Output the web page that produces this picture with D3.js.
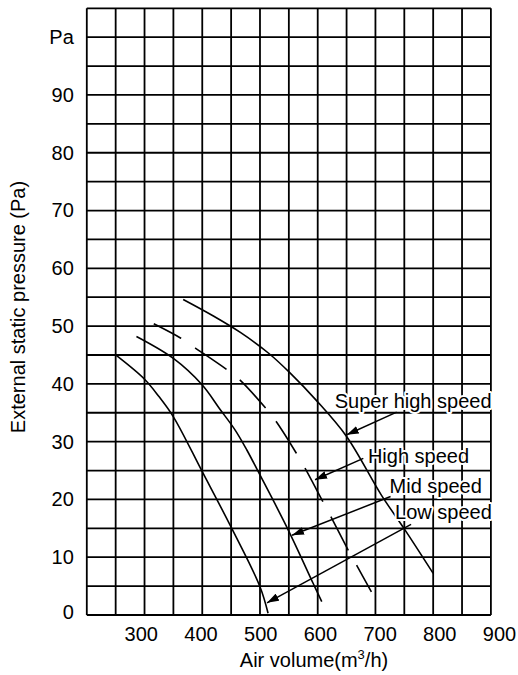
<!DOCTYPE html>
<html>
<head>
<meta charset="utf-8">
<script src="https://cdn.jsdelivr.net/npm/d3@7"></script>
<style>
  body { margin: 0; background: #fff; }
  text { font-family: "Liberation Sans", Arial, sans-serif; fill: #000; }
  .grid line { stroke: #000; stroke-width: 1.8; }
  .curve { fill: none; stroke: #000; stroke-width: 1.6; }
  .axis text { font-size: 20px; }
  .note { font-size: 20px; paint-order: stroke; stroke: #fff; stroke-width: 4px; stroke-linejoin: round; }
  .arrow { stroke: #000; stroke-width: 1.5; }
</style>
</head>
<body>
<div id="chart"></div>
<script>

var width = 518;
var height = 675;
var margin = {top: 8.3, right: 27, bottom: 60, left: 86.8};

// tick labels
var xTicks = [300, 400, 500, 600, 700, 800, 900];
var yTicks = [0, 10, 20, 30, 40, 50, 60, 70, 80, 90, 100];
var yTickLabels = ["0", "10", "20", "30", "40", "50", "60", "70", "80", "90", "Pa"];

// fan curves: air volume (m3/h) and static pressure (Pa)
var lowX = [250, 300, 325, 350, 400, 450, 500, 514];
var lowY = [45, 40.8, 37.8, 34.3, 24.8, 15.2, 4.9, 0.3];

var midX = [286, 350, 400, 430, 457, 477, 497, 549, 592, 607];
var midY = [48.2, 44.4, 39.8, 35.7, 32, 28.6, 24.8, 14.7, 5.5, 2.3];

var highX = [316, 363, 388, 442, 464, 509, 528, 563, 578, 608, 623, 653, 667, 693];
var highY = [50.4, 47.9, 46.2, 42.5, 40.8, 35.9, 33.5, 28, 25.4, 19.8, 17, 11.2, 8.7, 4];

var superX = [367, 420, 466, 515, 552, 598, 650, 710, 750, 800];
var superY = [54.6, 51.7, 48.9, 45.3, 41.9, 37.1, 30.9, 20.8, 14.9, 7.2];

// callouts
var noteText = ["Super high speed", "High speed", "Mid speed", "Low speed"];
var noteX = [629.5, 687, 724.5, 734];
var noteY = [35.8, 26.3, 21.2, 16.7];
var arrowFromX = [736.8, 679, 726.2, 761.7];
var arrowFromY = [35.1, 27.1, 20.5, 15.7];
var arrowToX = [650.3, 595.4, 555.5, 512.2];
var arrowToY = [31.2, 23.4, 13.8, 2.1];

createchart();

function createchart() {

  var svg = d3.select("#chart")
    .append("svg")
    .attr("width", width)
    .attr("height", height);

  var g = svg.append("g")
    .attr("transform", "translate(" + margin.left + "," + margin.top + ")");

  var xScale = d3.scaleLinear().domain([200, 900]).range([0, 404.1]);
  var yScale = d3.scaleLinear().domain([0, 105]).range([606.7, 0]);
  // labels under the x axis sit slightly wider apart than the grid
  var xLabelScale = d3.scaleLinear().domain([300, 900]).range([54, 412.2]);

  var grid = g.append("g").attr("class", "grid");
  grid.selectAll(".vx")
    .data(d3.range(200, 901, 50))
    .enter()
    .append("line")
    .attr("x1", function(d) { return xScale(d); })
    .attr("x2", function(d) { return xScale(d); })
    .attr("y1", yScale(0))
    .attr("y2", yScale(105));
  grid.selectAll(".hy")
    .data(d3.range(0, 106, 5))
    .enter()
    .append("line")
    .attr("x1", xScale(200))
    .attr("x2", xScale(900))
    .attr("y1", function(d) { return yScale(d); })
    .attr("y2", function(d) { return yScale(d); });

  var xAxis = g.append("g")
    .attr("class", "axis")
    .attr("transform", "translate(0," + yScale(0) + ")")
    .call(d3.axisBottom(xLabelScale).tickValues(xTicks).tickSize(0).tickPadding(11.5));
  xAxis.select(".domain").remove();
  xAxis.selectAll("text").style("font-size", "20px").attr("font-family", null);

  var yAxis = g.append("g")
    .attr("class", "axis")
    .call(d3.axisLeft(yScale).tickValues(yTicks).tickSize(0).tickPadding(13)
      .tickFormat(function(d, i) { return yTickLabels[i]; }));
  yAxis.select(".domain").remove();
  yAxis.selectAll("text").style("font-size", "20px").attr("font-family", null);
  // the zero label sits a little above the bottom line
  yAxis.selectAll("text").filter(function(d) { return d === 0; }).attr("dy", "0.15em");

  var line = d3.line()
    .x(function(d) { return xScale(d[0]); })
    .y(function(d) { return yScale(d[1]); })
    .curve(d3.curveCatmullRom.alpha(0.5));

  function pairs(xs, ys) { return xs.map(function(x, i) { return [x, ys[i]]; }); }

  g.append("path").attr("class", "curve").attr("d", line(pairs(lowX, lowY)));
  g.append("path").attr("class", "curve").attr("d", line(pairs(midX, midY)));
  g.append("path").attr("class", "curve").attr("d", line(pairs(superX, superY)));
  g.append("path").attr("class", "curve")
    .attr("stroke-dasharray", "38,17")
    .attr("stroke-dashoffset", 7)
    .attr("d", line(pairs(highX, highY)));

  svg.append("defs").append("marker")
    .attr("id", "head")
    .attr("markerUnits", "userSpaceOnUse")
    .attr("viewBox", "0 0 12 8")
    .attr("refX", 12)
    .attr("refY", 4)
    .attr("markerWidth", 12)
    .attr("markerHeight", 8)
    .attr("orient", "auto")
    .append("path")
    .attr("d", "M0,0L12,4L0,8Z")
    .attr("fill", "#000");

  g.selectAll(".note")
    .data(noteText)
    .enter()
    .append("text")
    .attr("class", "note")
    .attr("x", function(d, i) { return xScale(noteX[i]); })
    .attr("y", function(d, i) { return yScale(noteY[i]); })
    .text(function(d) { return d; });

  g.selectAll(".arrow")
    .data(noteText)
    .enter()
    .append("line")
    .attr("class", "arrow")
    .attr("x1", function(d, i) { return xScale(arrowFromX[i]); })
    .attr("y1", function(d, i) { return yScale(arrowFromY[i]); })
    .attr("x2", function(d, i) { return xScale(arrowToX[i]); })
    .attr("y2", function(d, i) { return yScale(arrowToY[i]); })
    .attr("marker-end", "url(#head)");

  var xt = svg.append("text")
    .attr("x", 314)
    .attr("y", 666.7)
    .style("font-size", "20px")
    .style("text-anchor", "middle");
  xt.append("tspan").text("Air volume(m");
  xt.append("tspan").attr("dy", -8).style("font-size", "13px").text("3");
  xt.append("tspan").attr("dy", 8).text("/h)");

  svg.append("text")
    .attr("transform", "rotate(-90)")
    .attr("x", -307)
    .attr("y", 25)
    .style("font-size", "20px")
    .style("text-anchor", "middle")
    .text("External static pressure (Pa)");
};

</script>
</body>
</html>
